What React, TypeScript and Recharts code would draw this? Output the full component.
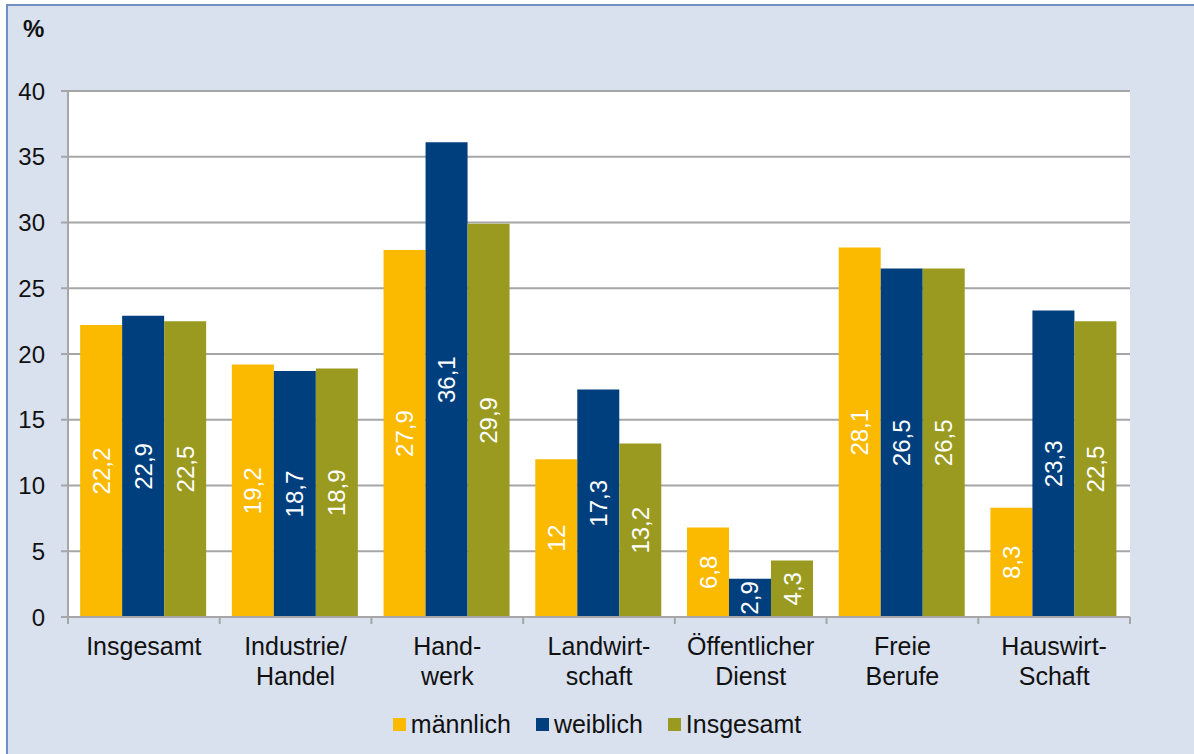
import { BarChart, Bar, XAxis, YAxis, CartesianGrid, Legend, LabelList } from "recharts";

const categories = [
  "Insgesamt",
  "Industrie/\nHandel",
  "Hand-\nwerk",
  "Landwirt-\nschaft",
  "Öffentlicher\nDienst",
  "Freie\nBerufe",
  "Hauswirt-\nSchaft",
];
const maennlich = [22.2, 19.2, 27.9, 12, 6.8, 28.1, 8.3];
const weiblich = [22.9, 18.7, 36.1, 17.3, 2.9, 26.5, 23.3];
const insgesamt = [22.5, 18.9, 29.9, 13.2, 4.3, 26.5, 22.5];
const yTicks = [0, 5, 10, 15, 20, 25, 30, 35, 40];

const series = [
  { key: "maennlich", name: "männlich", color: "#fbb900" },
  { key: "weiblich", name: "weiblich", color: "#003f7e" },
  { key: "insgesamt", name: "Insgesamt", color: "#9a9a21" },
];

const data = categories.map((c, i) => ({
  name: c,
  maennlich: maennlich[i],
  weiblich: weiblich[i],
  insgesamt: insgesamt[i],
}));

const FONT = "'Liberation Sans', Arial, sans-serif";
const GRID = "#a6a6a6";

function CategoryTick(props: any) {
  const { x, y, payload, index, width, visibleTicksCount } = props;
  const half = (width || 1062) / (visibleTicksCount || 7) / 2;
  const lines = String(payload.value).split("\n");
  const last = index === (visibleTicksCount || 7) - 1;
  return (
    <g>
      <line x1={x - half} x2={x - half} y1={y} y2={y + 7} stroke={GRID} strokeWidth={2} />
      {last && <line x1={x + half} x2={x + half} y1={y} y2={y + 7} stroke={GRID} strokeWidth={2} />}
      <text x={x} y={y + 38} textAnchor="middle" fontSize={25} fill="#111" fontFamily={FONT}>
        {lines.map((l, i) => (
          <tspan key={i} x={x} dy={i === 0 ? 0 : 30}>
            {l}
          </tspan>
        ))}
      </text>
    </g>
  );
}

function LegendBox() {
  return (
    <div
      style={{
        display: "flex",
        justifyContent: "center",
        alignItems: "center",
        height: 30,
        fontFamily: FONT,
        fontSize: 25,
        color: "#111",
      }}
    >
      {series.map((s, i) => (
        <div
          key={s.key}
          style={{ display: "flex", alignItems: "center", marginRight: i === series.length - 1 ? 0 : 25 }}
        >
          <span style={{ width: 13, height: 13, background: s.color, marginRight: 5, display: "inline-block" }} />
          <span>{s.name}</span>
        </div>
      ))}
    </div>
  );
}

export default function App() {
  return (
    <div style={{ position: "absolute", left: 0, top: 0, width: 1194, height: 754, overflow: "hidden", background: "#fff" }}>
      <div
        style={{
          position: "absolute",
          left: 6,
          top: 4,
          width: 1210,
          height: 770,
          background: "#d9e0ee",
          border: "2px solid #6f8fc4",
        }}
      />
      <div
        style={{
          position: "absolute",
          left: 23,
          top: 15,
          fontFamily: FONT,
          fontWeight: "bold",
          fontSize: 24,
          color: "#111",
        }}
      >
        %
      </div>
      <div style={{ position: "absolute", left: 0, top: 0 }}>
        <BarChart
          width={1194}
          height={754}
          data={data}
          margin={{ top: 91, right: 64, left: 0, bottom: 27 }}
          barCategoryGap="8%"
          barGap={0}
        >
          <CartesianGrid vertical={false} stroke={GRID} strokeWidth={2} fill="#fff" />
          <XAxis
            dataKey="name"
            interval={0}
            height={80}
            tickSize={0}
            tickMargin={0}
            tickLine={false}
            axisLine={{ stroke: GRID, strokeWidth: 2 }}
            tick={<CategoryTick />}
          />
          <YAxis
            width={68}
            domain={[0, 40]}
            ticks={yTicks}
            interval={0}
            tickSize={7}
            tickMargin={16}
            axisLine={{ stroke: GRID, strokeWidth: 2 }}
            tickLine={{ stroke: GRID, strokeWidth: 2 }}
            tick={{ fontSize: 24, fill: "#111", fontFamily: FONT }}
          />
          <Legend
            verticalAlign="bottom"
            content={<LegendBox />}
            wrapperStyle={{ bottom: 15, left: 0, width: 1194 }}
          />
          {series.map((s) => (
            <Bar key={s.key} dataKey={s.key} name={s.name} fill={s.color} isAnimationActive={false}>
              <LabelList
                dataKey={s.key}
                position="center"
                angle={-90}
                fill="#fff"
                fontSize={24}
                fontFamily={FONT}
                formatter={(v: any) => String(v).replace(".", ",")}
              />
            </Bar>
          ))}
        </BarChart>
      </div>
    </div>
  );
}
